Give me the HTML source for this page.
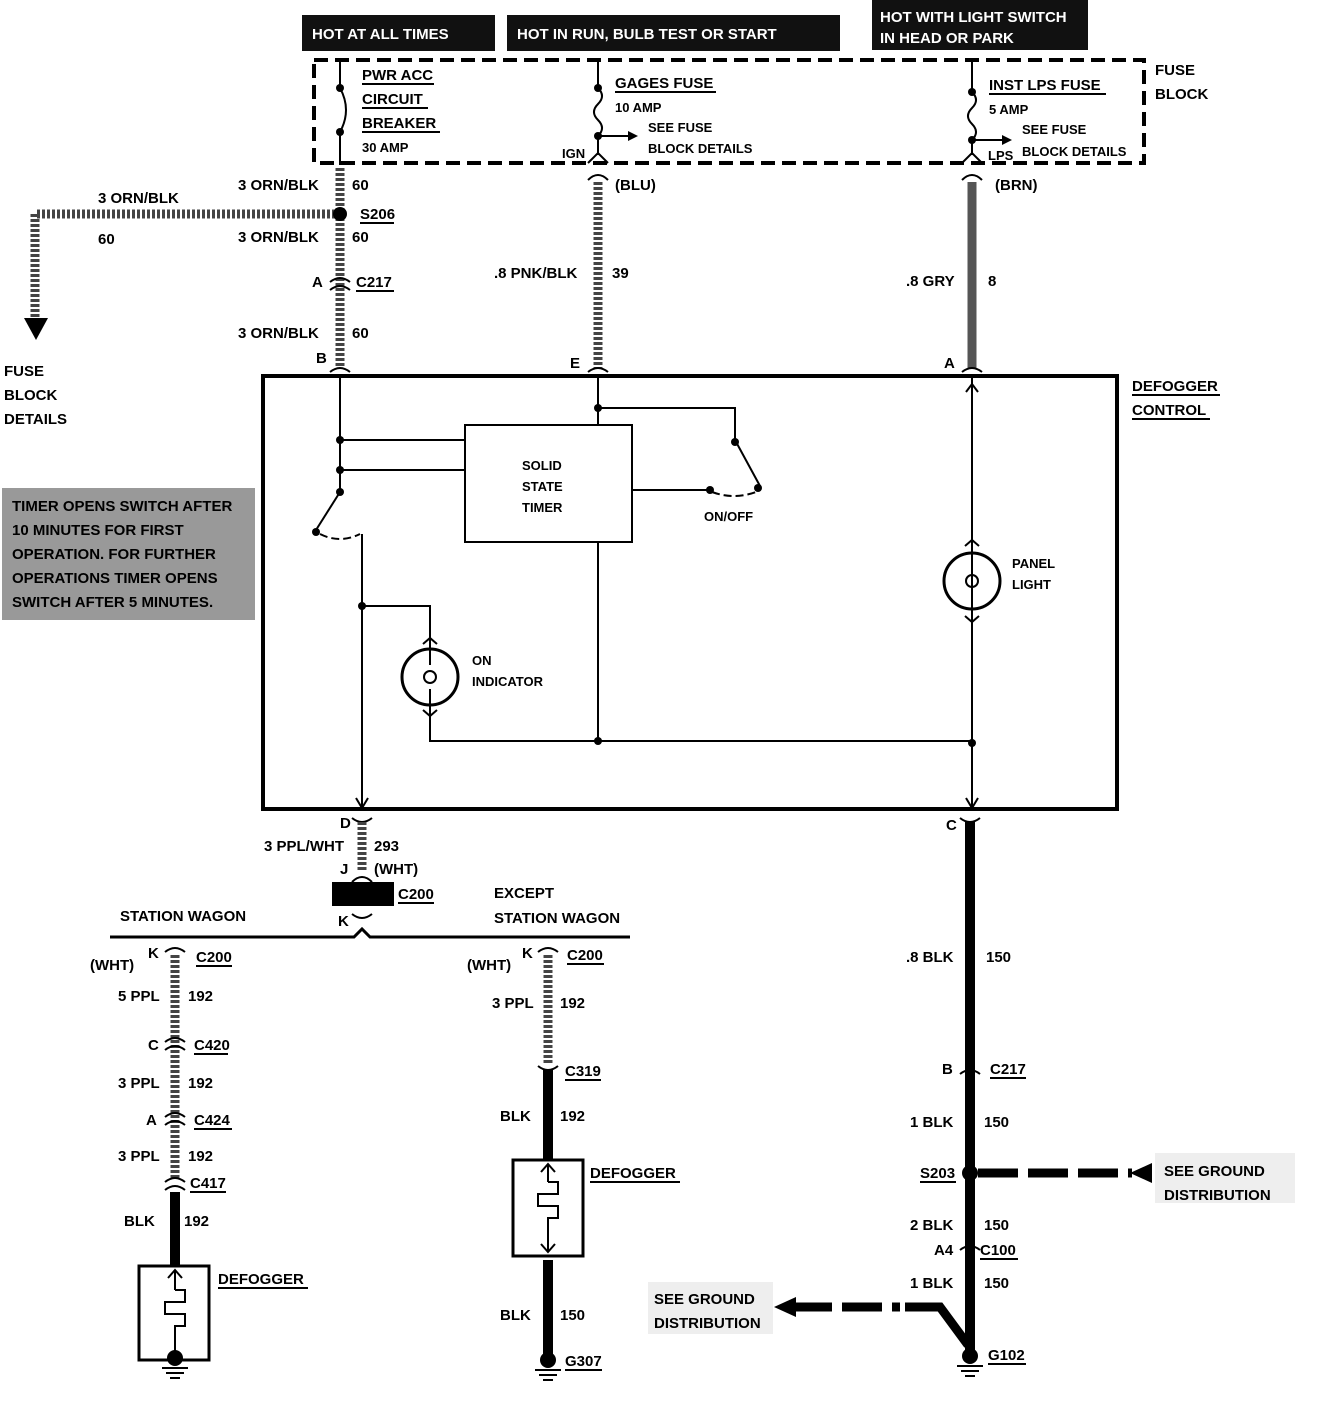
<!DOCTYPE html>
<html><head><meta charset="utf-8"><style>
html,body{margin:0;padding:0;background:#fff;}
svg{display:block;}
text{font-family:"Liberation Sans",sans-serif;font-weight:bold;font-size:15px;fill:#000;}
.s{font-size:13px;}
.w{fill:#fff;}
.hw{stroke:#444;stroke-width:9;stroke-dasharray:3 2;fill:none;}
.bw{stroke:#000;stroke-width:10;fill:none;}
.l{stroke:#000;stroke-width:2;fill:none;}
</style></head><body>
<svg width="1328" height="1404" viewBox="0 0 1328 1404" xmlns="http://www.w3.org/2000/svg">
<rect x="302" y="15" width="193" height="36" fill="#111"/>
<text x="312" y="39" class="w" font-size="17">HOT AT ALL TIMES</text>
<rect x="507" y="15" width="333" height="36" fill="#111"/>
<text x="517" y="39" class="w" font-size="17">HOT IN RUN,  BULB TEST OR START</text>
<rect x="872" y="0" width="216" height="50" fill="#111"/>
<text x="880" y="22" class="w" font-size="15">HOT WITH LIGHT SWITCH</text>
<text x="880" y="43" class="w" font-size="15">IN HEAD OR PARK</text>
<rect x="314" y="60" width="830" height="103" fill="none" stroke="#000" stroke-width="4" stroke-dasharray="14 7"/>
<text x="1155" y="75">FUSE</text><text x="1155" y="99">BLOCK</text>
<path class="l" d="M340 60 V88 M340 88 Q352 110 340 132 V165" stroke-width="3"/>
<circle cx="340" cy="88" r="4"/><circle cx="340" cy="132" r="4"/>
<text x="362" y="80">PWR ACC</text><text x="362" y="104">CIRCUIT</text><text x="362" y="128">BREAKER</text>
<path d="M362 84H434M362 108H428M362 132H440" stroke="#000" stroke-width="2"/>
<text x="362" y="152" class="s">30 AMP</text>
<path class="l" d="M598 60V88 M598 88 q8 8 0 16 q-8 8 0 16 q8 8 0 16 V155" stroke-width="3"/>
<circle cx="598" cy="88" r="4"/><circle cx="598" cy="136" r="4"/>
<path class="l" d="M598 136H630"/><path d="M628 131l10 5-10 5z"/>
<path class="l" d="M588 163l10-10 10 10" stroke-width="3"/>
<text x="562" y="158" class="s">IGN</text>
<text x="615" y="88">GAGES FUSE</text><path d="M615 92H716" stroke="#000" stroke-width="2"/>
<text x="615" y="112" class="s">10 AMP</text>
<text x="648" y="132" class="s">SEE FUSE</text><text x="648" y="153" class="s">BLOCK DETAILS</text>
<path class="l" d="M972 60V92 M972 92 q8 8 0 16 q-8 8 0 16 q8 8 0 16 V155" stroke-width="3"/>
<circle cx="972" cy="92" r="4"/><circle cx="972" cy="140" r="4"/>
<path class="l" d="M972 140H1004"/><path d="M1002 135l10 5-10 5z"/>
<path class="l" d="M962 163l10-10 10 10" stroke-width="3"/>
<text x="988" y="160" class="s">LPS</text>
<text x="989" y="90">INST LPS FUSE</text><path d="M989 94H1106" stroke="#000" stroke-width="2"/>
<text x="989" y="114" class="s">5 AMP</text>
<text x="1022" y="134" class="s">SEE FUSE</text><text x="1022" y="156" class="s">BLOCK DETAILS</text>
<path class="hw" d="M340 168V368"/>
<path class="hw" d="M340 214H35V320"/>
<path d="M24 318h24l-12 22z"/>
<circle cx="340" cy="214" r="7"/>
<text x="98" y="203">3 ORN/BLK</text><text x="98" y="244">60</text>
<text x="238" y="190">3 ORN/BLK</text><text x="352" y="190">60</text>
<text x="360" y="219">S206</text><path d="M360 223H394" stroke="#000" stroke-width="2"/>
<text x="238" y="242">3 ORN/BLK</text><text x="352" y="242">60</text>
<path class="l" d="M330 282q10-8 20 0M330 290q10-8 20 0" stroke-width="3"/>
<text x="312" y="287">A</text><text x="356" y="287">C217</text><path d="M356 291H394" stroke="#000" stroke-width="2"/>
<text x="238" y="338">3 ORN/BLK</text><text x="352" y="338">60</text>
<text x="4" y="376">FUSE</text><text x="4" y="400">BLOCK</text><text x="4" y="424">DETAILS</text>
<text x="316" y="363">B</text>
<path class="l" d="M330 372q10-8 20 0" stroke-width="3"/>
<path class="l" d="M588 180q10-10 20 0" stroke-width="3"/>
<path class="hw" d="M598 182V368"/>
<text x="615" y="190">(BLU)</text>
<text x="494" y="278">.8 PNK/BLK</text><text x="612" y="278">39</text>
<text x="570" y="368">E</text>
<path class="l" d="M588 372q10-8 20 0" stroke-width="3"/>
<path class="l" d="M962 180q10-10 20 0" stroke-width="3"/>
<path d="M972 182V368" stroke="#555" stroke-width="9"/>
<text x="995" y="190">(BRN)</text>
<text x="906" y="286">.8 GRY</text><text x="988" y="286">8</text>
<text x="944" y="368">A</text>
<path class="l" d="M962 372q10-8 20 0" stroke-width="3"/>
<rect x="263" y="376" width="854" height="433" fill="none" stroke="#000" stroke-width="4"/>
<text x="1132" y="391">DEFOGGER</text><text x="1132" y="415">CONTROL</text><path d="M1132 395H1220M1132 419H1210" stroke="#000" stroke-width="2"/>
<path class="l" d="M340 376V492 M340 440H465 M340 470H465"/>
<circle cx="340" cy="440" r="4"/><circle cx="340" cy="470" r="4"/><circle cx="340" cy="492" r="4"/>
<path class="l" d="M340 492L316 530"/><circle cx="316" cy="532" r="4"/>
<path d="M320 534q20 10 40 0" stroke="#000" stroke-width="2" fill="none" stroke-dasharray="8 4"/>
<path class="l" d="M362 534V808"/>
<path d="M356 798l6 10 6-10" class="l"/>
<circle cx="362" cy="606" r="4"/>
<path class="l" d="M362 606H430V640"/>
<rect x="465" y="425" width="167" height="117" fill="#fff" stroke="#000" stroke-width="2"/>
<text x="522" y="470" class="s">SOLID</text><text x="522" y="491" class="s">STATE</text><text x="522" y="512" class="s">TIMER</text>
<path class="l" d="M598 376V425 M598 408H735V440 M735 440L760 486"/>
<circle cx="598" cy="408" r="4"/><circle cx="735" cy="442" r="4"/><circle cx="758" cy="488" r="4"/><circle cx="710" cy="490" r="4"/>
<path class="l" d="M632 490H710"/>
<path d="M712 492q22 8 44 0" stroke="#000" stroke-width="2" fill="none" stroke-dasharray="8 4"/>
<text x="704" y="521" class="s">ON/OFF</text>
<path class="l" d="M598 542V741"/><circle cx="598" cy="741" r="4"/>
<circle cx="430" cy="677" r="28" fill="none" stroke="#000" stroke-width="3"/>
<path class="l" d="M423 644l7-6 7 6M430 640V665M430 689V715M423 710l7 6 7-6"/>
<circle cx="430" cy="677" r="6" fill="none" stroke="#000" stroke-width="2"/>
<text x="472" y="665" class="s">ON</text><text x="472" y="686" class="s">INDICATOR</text>
<path class="l" d="M430 716V741H972"/><circle cx="972" cy="743" r="4"/>
<path class="l" d="M972 376V808"/>
<path class="l" d="M966 392l6-8 6 8M966 798l6 10 6-10"/>
<circle cx="972" cy="581" r="28" fill="#fff" stroke="#000" stroke-width="3"/>
<path class="l" d="M972 553V620 M965 546l7-6 7 6M965 616l7 6 7-6"/>
<circle cx="972" cy="581" r="6" fill="none" stroke="#000" stroke-width="2"/>
<text x="1012" y="568" class="s">PANEL</text><text x="1012" y="589" class="s">LIGHT</text>
<rect x="2" y="488" width="253" height="132" fill="#999"/>
<text x="12" y="511" font-size="15">TIMER OPENS SWITCH AFTER</text>
<text x="12" y="535" font-size="15">10 MINUTES FOR FIRST</text>
<text x="12" y="559" font-size="15">OPERATION.  FOR FURTHER</text>
<text x="12" y="583" font-size="15">OPERATIONS TIMER OPENS</text>
<text x="12" y="607" font-size="15">SWITCH AFTER 5 MINUTES.</text>
<text x="340" y="828">D</text>
<path class="l" d="M352 818q10 8 20 0" stroke-width="3"/>
<path class="hw" d="M362 822V870"/>
<text x="264" y="851">3 PPL/WHT</text><text x="374" y="851">293</text>
<text x="340" y="874">J</text><text x="374" y="874">(WHT)</text>
<rect x="332" y="882" width="62" height="24" fill="#000"/>
<path class="l" d="M352 882q10-10 20 0" stroke-width="3"/>
<text x="398" y="899">C200</text><path d="M398 903H434" stroke="#000" stroke-width="2"/>
<text x="338" y="926">K</text>
<path class="l" d="M352 914q10 8 20 0" stroke-width="3"/>
<path d="M110 937H354l8-8 8 8H630" stroke="#000" stroke-width="3" fill="none"/>
<text x="120" y="921">STATION WAGON</text>
<text x="494" y="898">EXCEPT</text><text x="494" y="923">STATION WAGON</text>
<path class="l" d="M165 952q10-8 20 0" stroke-width="3"/>
<path class="hw" d="M175 955V1180"/>
<text x="148" y="958">K</text><text x="196" y="962">C200</text><path d="M196 966H232" stroke="#000" stroke-width="2"/>
<text x="90" y="970">(WHT)</text>
<text x="118" y="1001">5 PPL</text><text x="188" y="1001">192</text>
<path class="l" d="M165 1042q10-8 20 0M165 1050q10-8 20 0" stroke-width="3"/>
<text x="148" y="1050">C</text><text x="194" y="1050">C420</text><path d="M194 1054H228" stroke="#000" stroke-width="2"/>
<text x="118" y="1088">3 PPL</text><text x="188" y="1088">192</text>
<path class="l" d="M165 1117q10-8 20 0M165 1125q10-8 20 0" stroke-width="3"/>
<text x="146" y="1125">A</text><text x="194" y="1125">C424</text><path d="M194 1129H232" stroke="#000" stroke-width="2"/>
<text x="118" y="1161">3 PPL</text><text x="188" y="1161">192</text>
<path class="l" d="M165 1182q10-8 20 0M165 1190q10-8 20 0" stroke-width="3"/>
<text x="190" y="1188">C417</text><path d="M190 1192H226" stroke="#000" stroke-width="2"/>
<path class="bw" d="M175 1192V1266"/>
<text x="124" y="1226">BLK</text><text x="184" y="1226">192</text>
<rect x="139" y="1266" width="70" height="94" fill="none" stroke="#000" stroke-width="3"/>
<path class="l" d="M175 1270V1290 M168 1278l7-8 7 8 M175 1290h10v12h-20v12h20v12h-10V1355"/>
<circle cx="175" cy="1358" r="8"/>
<path class="l" d="M162 1368h26M166 1373h18M170 1378h10"/>
<text x="218" y="1284">DEFOGGER</text><path d="M218 1288H308" stroke="#000" stroke-width="2"/>
<path class="l" d="M538 952q10-8 20 0" stroke-width="3"/>
<path class="hw" d="M548 955V1064"/>
<text x="522" y="958">K</text><text x="567" y="960">C200</text><path d="M567 964H604" stroke="#000" stroke-width="2"/>
<text x="467" y="970">(WHT)</text>
<text x="492" y="1008">3 PPL</text><text x="560" y="1008">192</text>
<path class="l" d="M538 1066q10 8 20 0" stroke-width="3"/>
<text x="565" y="1076">C319</text><path d="M565 1080H601" stroke="#000" stroke-width="2"/>
<path class="bw" d="M548 1070V1160"/>
<text x="500" y="1121">BLK</text><text x="560" y="1121">192</text>
<rect x="513" y="1160" width="70" height="96" fill="none" stroke="#000" stroke-width="3"/>
<path class="l" d="M548 1164V1182 M541 1172l7-8 7 8 M548 1182h10v12h-20v12h20v12h-10V1252 M541 1244l7 8 7-8"/>
<text x="590" y="1178">DEFOGGER</text><path d="M590 1182H680" stroke="#000" stroke-width="2"/>
<path class="bw" d="M548 1260V1355"/>
<text x="500" y="1320">BLK</text><text x="560" y="1320">150</text>
<circle cx="548" cy="1360" r="8"/>
<path class="l" d="M535 1370h26M539 1375h18M543 1380h10"/>
<text x="565" y="1366">G307</text><path d="M565 1370H602" stroke="#000" stroke-width="2"/>
<text x="946" y="830">C</text>
<path class="l" d="M960 818q10 8 20 0" stroke-width="3"/>
<path class="bw" d="M970 822V1350"/>
<text x="906" y="962">.8 BLK</text><text x="986" y="962">150</text>
<path class="l" d="M960 1074q10-8 20 0" stroke="#fff" stroke-width="3"/>
<text x="942" y="1074">B</text><text x="990" y="1074">C217</text><path d="M990 1078H1026" stroke="#000" stroke-width="2"/>
<text x="910" y="1127">1 BLK</text><text x="984" y="1127">150</text>
<circle cx="970" cy="1173" r="8"/>
<path d="M978 1173H1132" stroke="#000" stroke-width="9" stroke-dasharray="40 10"/>
<path d="M1152 1163l-22 10 22 10z"/>
<text x="920" y="1178">S203</text><path d="M920 1182H956" stroke="#000" stroke-width="2"/>
<rect x="1155" y="1153" width="140" height="50" fill="#eee"/>
<text x="1164" y="1176">SEE GROUND</text><text x="1164" y="1200">DISTRIBUTION</text>
<text x="910" y="1230">2 BLK</text><text x="984" y="1230">150</text>
<path class="l" d="M960 1250q10-8 20 0" stroke="#fff" stroke-width="3"/>
<text x="934" y="1255">A4</text><text x="980" y="1255">C100</text><path d="M980 1259H1018" stroke="#000" stroke-width="2"/>
<text x="910" y="1288">1 BLK</text><text x="984" y="1288">150</text>
<path d="M792 1307H900" stroke="#000" stroke-width="9" fill="none" stroke-dasharray="40 10"/>
<path d="M905 1307H940L968 1345" stroke="#000" stroke-width="9" fill="none"/>
<path d="M774 1307l22-10v20z"/>
<rect x="648" y="1282" width="125" height="52" fill="#eee"/>
<text x="654" y="1304">SEE GROUND</text><text x="654" y="1328">DISTRIBUTION</text>
<circle cx="970" cy="1356" r="8"/>
<path class="l" d="M957 1366h26M961 1371h18M965 1376h10"/>
<text x="988" y="1360">G102</text><path d="M988 1364H1026" stroke="#000" stroke-width="2"/>
</svg>
</body></html>
